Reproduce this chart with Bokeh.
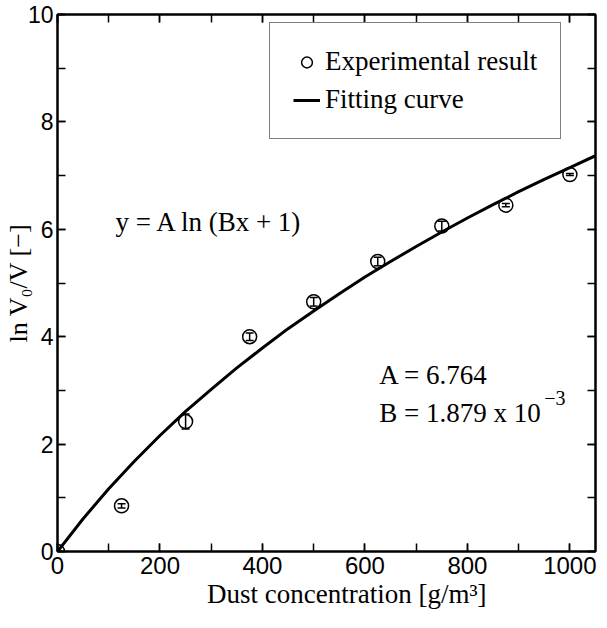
from bokeh.plotting import figure
from bokeh.models import (Range1d, SingleIntervalTicker, LinearAxis, Whisker, TeeHead,
                          ColumnDataSource, Legend, LegendItem, Label)
from bokeh.embed import file_html
from bokeh.resources import INLINE

# ---- data ----
conc = [0, 125, 250, 375, 500, 625, 750, 875, 1000]
ln_ratio = [0.0, 0.85, 2.42, 4.00, 4.65, 5.40, 6.06, 6.45, 7.02]
ln_err = [0.0, 0.04, 0.14, 0.07, 0.08, 0.08, 0.09, 0.03, 0.02]

fit_x = [0, 50, 100, 150, 200, 250, 300, 350, 400, 450, 500, 550,
         600, 650, 700, 750, 800, 850, 900, 950, 1000, 1050]
fit_y = [0.0, 0.61, 1.17, 1.68, 2.16, 2.61, 3.02, 3.42, 3.79, 4.15, 4.48, 4.80,
         5.11, 5.40, 5.68, 5.95, 6.21, 6.46, 6.70, 6.93, 7.15, 7.37]

x_ticks_interval = 200
y_ticks_interval = 2

SERIF = "Liberation Serif"
SANS = "Liberation Sans"

p = figure(frame_width=538, frame_height=537,
           x_range=Range1d(0, 1050), y_range=Range1d(0, 10),
           output_backend="svg", toolbar_location=None,
           min_border_left=52, min_border_top=14, min_border_right=4,
           min_border_bottom=10)
p.grid.visible = False
p.outline_line_color = "black"
p.outline_line_width = 2
p.outline_line_alpha = 1.0
p.background_fill_color = "white"
p.border_fill_color = "white"

def style_axis(ax, interval, labels=True):
    ax.ticker = SingleIntervalTicker(interval=interval, num_minor_ticks=2)
    ax.major_tick_in = 8
    ax.major_tick_out = 0
    ax.minor_tick_in = 8
    ax.minor_tick_out = 0
    ax.major_tick_line_color = "black"
    ax.minor_tick_line_color = "black"
    ax.major_tick_line_width = 1.5
    ax.minor_tick_line_width = 1.5
    ax.axis_line_color = "black"
    ax.axis_line_width = 2
    if labels:
        ax.major_label_text_font = SANS
        ax.major_label_text_font_size = "24px"
        ax.major_label_text_color = "black"
    else:
        ax.major_label_text_font_size = "2px"
        ax.major_label_text_color = None
        ax.major_label_text_alpha = 0
        ax.major_label_standoff = 0

style_axis(p.xaxis[0], x_ticks_interval)
style_axis(p.yaxis[0], y_ticks_interval)
p.yaxis[0].major_label_text_font_size = "23px"
p.xaxis[0].major_label_standoff = 5
p.yaxis[0].major_label_standoff = 4

p.xaxis[0].axis_label = "\u2003\u2002Dust concentration [g/m³]"
p.xaxis[0].axis_label_text_font = SERIF
p.xaxis[0].axis_label_text_font_style = "normal"
p.xaxis[0].axis_label_text_font_size = "27px"
p.xaxis[0].axis_label_standoff = 2
p.xaxis[0].axis_label_text_color = "black"

p.yaxis[0].axis_label = "ln V₀/V [−]"
p.yaxis[0].axis_label_text_font = SERIF
p.yaxis[0].axis_label_text_font_style = "normal"
p.yaxis[0].axis_label_text_font_size = "26px"
p.yaxis[0].axis_label_standoff = -8
p.yaxis[0].axis_label_text_color = "black"

top_ax = LinearAxis()
style_axis(top_ax, x_ticks_interval, labels=False)
p.add_layout(top_ax, "above")
right_ax = LinearAxis()
style_axis(right_ax, y_ticks_interval, labels=False)
p.add_layout(right_ax, "right")

# ---- fitting curve ----
line_r = p.line(fit_x, fit_y, line_color="black", line_width=3)

# ---- experimental points with error bars ----
src = ColumnDataSource(dict(
    x=conc, y=ln_ratio,
    upper=[v + e for v, e in zip(ln_ratio, ln_err)],
    lower=[v - e for v, e in zip(ln_ratio, ln_err)],
))
wh = Whisker(base="x", upper="upper", lower="lower", source=src,
             line_color="black", line_width=1.5,
             upper_head=TeeHead(size=8, line_color="black", line_width=1.5),
             lower_head=TeeHead(size=8, line_color="black", line_width=1.5))
p.add_layout(wh)
pts_r = p.scatter("x", "y", source=src, marker="circle", size=14,
                  fill_color=None, line_color="black", line_width=1.5)

# ---- legend ----
legend = Legend(items=[LegendItem(label="Experimental result", renderers=[pts_r]),
                       LegendItem(label="Fitting curve", renderers=[line_r])],
                location=(212, 412))
legend.label_text_font = SERIF
legend.label_text_font_size = "27px"
legend.label_text_color = "black"
legend.label_height = 30
legend.glyph_height = 30
legend.glyph_width = 27
legend.label_standoff = 5
legend.spacing = 7
legend.padding = 23
legend.margin = 0
legend.border_line_color = "black"
legend.border_line_width = 1.5
legend.background_fill_color = "white"
legend.background_fill_alpha = 1.0
p.add_layout(legend, "center")

# ---- annotations ----
common = dict(text_font=SERIF, text_font_size="27px", text_color="black",
              text_baseline="alphabetic")
p.add_layout(Label(x=113, y=6.14, text="y = A ln (Bx + 1)", **common))
p.add_layout(Label(x=628, y=3.29, text="A = 6.764", **common))
p.add_layout(Label(x=628, y=2.57, text="B = 1.879 x 10", **common))
p.add_layout(Label(x=950, y=2.85, text="−3", text_font=SERIF, text_font_size="20px",
                   text_color="black", text_baseline="alphabetic"))

open("out.html", "w").write(file_html(p, INLINE))
